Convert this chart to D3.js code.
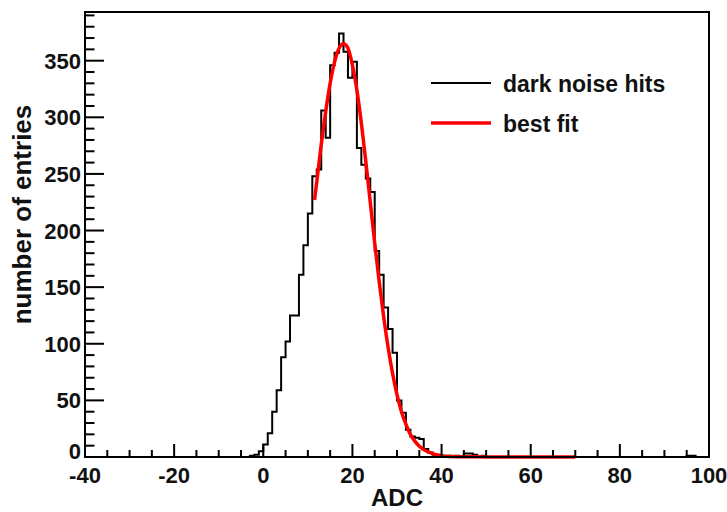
<!DOCTYPE html>
<html>
<head>
<meta charset="utf-8">
<script src="https://cdn.jsdelivr.net/npm/d3@7"></script>
<style>
  body { margin: 0; background: #fff; }
  text { font-family: "Liberation Sans", Arial, Helvetica, sans-serif; font-weight: bold; fill: #111; }
</style>
</head>
<body>
<script>
// histogram: lower bin edge (ADC) and number of entries, bin width 1
const binEdges = [-3, -2, -1, 0, 1, 2, 3, 4, 5, 6, 7, 8, 9, 10, 11, 12, 13, 14, 15, 16, 17, 18, 19, 20,
  21, 22, 23, 24, 25, 26, 27, 28, 29, 30, 31, 32, 33, 34, 35, 36, 37, 38, 39, 40, 41, 42, 43, 44, 45, 46, 47, 48, 49];
const entries = [1, 2, 5, 11, 21, 40, 59, 88, 102, 125, 125, 161, 187, 215, 248, 254, 306, 282, 346, 357, 374, 358, 335, 349,
  273, 258, 246, 234, 182, 161, 132, 113, 92, 50, 39, 24, 18, 17, 16, 7, 4, 2, 2, 1, 1, 0, 1, 0, 3, 3, 2, 0, 1];
const farEdges = [95, 96];
const farEntries = [1, 1];

// best fit curve
const fitX = [11.5, 12, 13, 14, 15, 16, 17, 18, 19, 20, 21, 22, 23, 24, 25, 26, 27, 28, 29, 30,
  31, 32, 33, 34, 35, 36, 37, 38, 39, 40, 42, 45, 50, 55, 60, 65, 70];
const fitY = [227, 243, 276, 305, 330, 349, 361, 365, 361, 346, 324, 295, 261, 225, 189, 155, 124, 97, 74, 55,
  40, 29, 20, 14, 9.5, 6.5, 4.5, 3, 1.8, 1.0, 0.4, 0.2, 0.1, 0, 0, 0, 0];

const xTicks = [-40, -20, 0, 20, 40, 60, 80, 100];
const yTicks = [0, 50, 100, 150, 200, 250, 300, 350];

const W = 727, H = 512;
const margin = { top: 12, right: 18, bottom: 55, left: 85 };
const x0 = margin.left, x1 = W - margin.right, y0 = H - margin.bottom, y1 = margin.top;

const x = d3.scaleLinear().domain([-40, 100]).range([x0, x1]);
const y = d3.scaleLinear().domain([0, 393]).range([y0, y1]);

const svg = d3.select("body").append("svg")
  .attr("width", W)
  .attr("height", H);

// build step outline over the full range -40..100
const counts = new Map();
binEdges.forEach((e, i) => counts.set(e, entries[i]));
farEdges.forEach((e, i) => counts.set(e, farEntries[i]));
const steps = d3.range(-40, 100).map(e => [e, counts.get(e) || 0]);
steps.push([100, 0]);

const stepLine = d3.line()
  .x(d => x(d[0]))
  .y(d => y(d[1]))
  .curve(d3.curveStepAfter);

svg.append("path")
  .datum(steps)
  .attr("d", stepLine)
  .attr("fill", "none")
  .attr("stroke", "#000")
  .attr("stroke-width", 2);

const fitLine = d3.line()
  .x((d, i) => x(fitX[i]))
  .y(d => y(d))
  .curve(d3.curveMonotoneX);

svg.append("path")
  .datum(fitY)
  .attr("d", fitLine)
  .attr("fill", "none")
  .attr("stroke", "#ff0000")
  .attr("stroke-width", 3.5);

// frame
svg.append("rect")
  .attr("x", x0).attr("y", y1)
  .attr("width", x1 - x0).attr("height", y0 - y1)
  .attr("fill", "none")
  .attr("stroke", "#000")
  .attr("stroke-width", 2);

// x axis ticks point up into the frame
const xMinor = d3.range(-40, 100.1, 5);
svg.append("g").selectAll("line")
  .data(xMinor)
  .join("line")
  .attr("x1", d => x(d)).attr("x2", d => x(d))
  .attr("y1", y0)
  .attr("y2", d => y0 - (d % 20 === 0 ? 13 : 7))
  .attr("stroke", "#000")
  .attr("stroke-width", 2);

svg.append("g").selectAll("text")
  .data(xTicks)
  .join("text")
  .attr("x", d => x(d))
  .attr("y", y0 + 26)
  .attr("text-anchor", "middle")
  .style("font-size", "22px")
  .text(d => d);

// y axis ticks
const yMinor = d3.range(0, 391, 10);
svg.append("g").selectAll("line")
  .data(yMinor)
  .join("line")
  .attr("y1", d => y(d)).attr("y2", d => y(d))
  .attr("x1", x0)
  .attr("x2", d => x0 + (d % 50 === 0 ? 19 : 9.5))
  .attr("stroke", "#000")
  .attr("stroke-width", 2);

svg.append("g").selectAll("text")
  .data(yTicks)
  .join("text")
  .attr("x", x0 - 4)
  .attr("y", d => y(d) + (d === 0 ? 2 : 8))
  .attr("text-anchor", "end")
  .style("font-size", "22px")
  .text(d => d);

// axis titles
svg.append("text")
  .attr("x", (x0 + x1) / 2)
  .attr("y", H - 6)
  .attr("text-anchor", "middle")
  .style("font-size", "24px")
  .text("ADC");

svg.append("text")
  .attr("transform", `translate(31,${(y0 + y1) / 2 - 20}) rotate(-90)`)
  .attr("text-anchor", "middle")
  .style("font-size", "26px")
  .text("number of entries");

// legend
const legend = [
  { label: "dark noise hits", color: "#000", width: 2 },
  { label: "best fit", color: "#ff0000", width: 3.5 }
];
const lg = svg.append("g").selectAll("g")
  .data(legend)
  .join("g")
  .attr("transform", (d, i) => `translate(431,${83 + i * 40})`);
lg.append("line")
  .attr("x1", 0).attr("x2", 60)
  .attr("stroke", d => d.color)
  .attr("stroke-width", d => d.width);
lg.append("text")
  .attr("x", 72)
  .attr("y", 9)
  .style("font-size", "23px")
  .text(d => d.label);
</script>
</body>
</html>
